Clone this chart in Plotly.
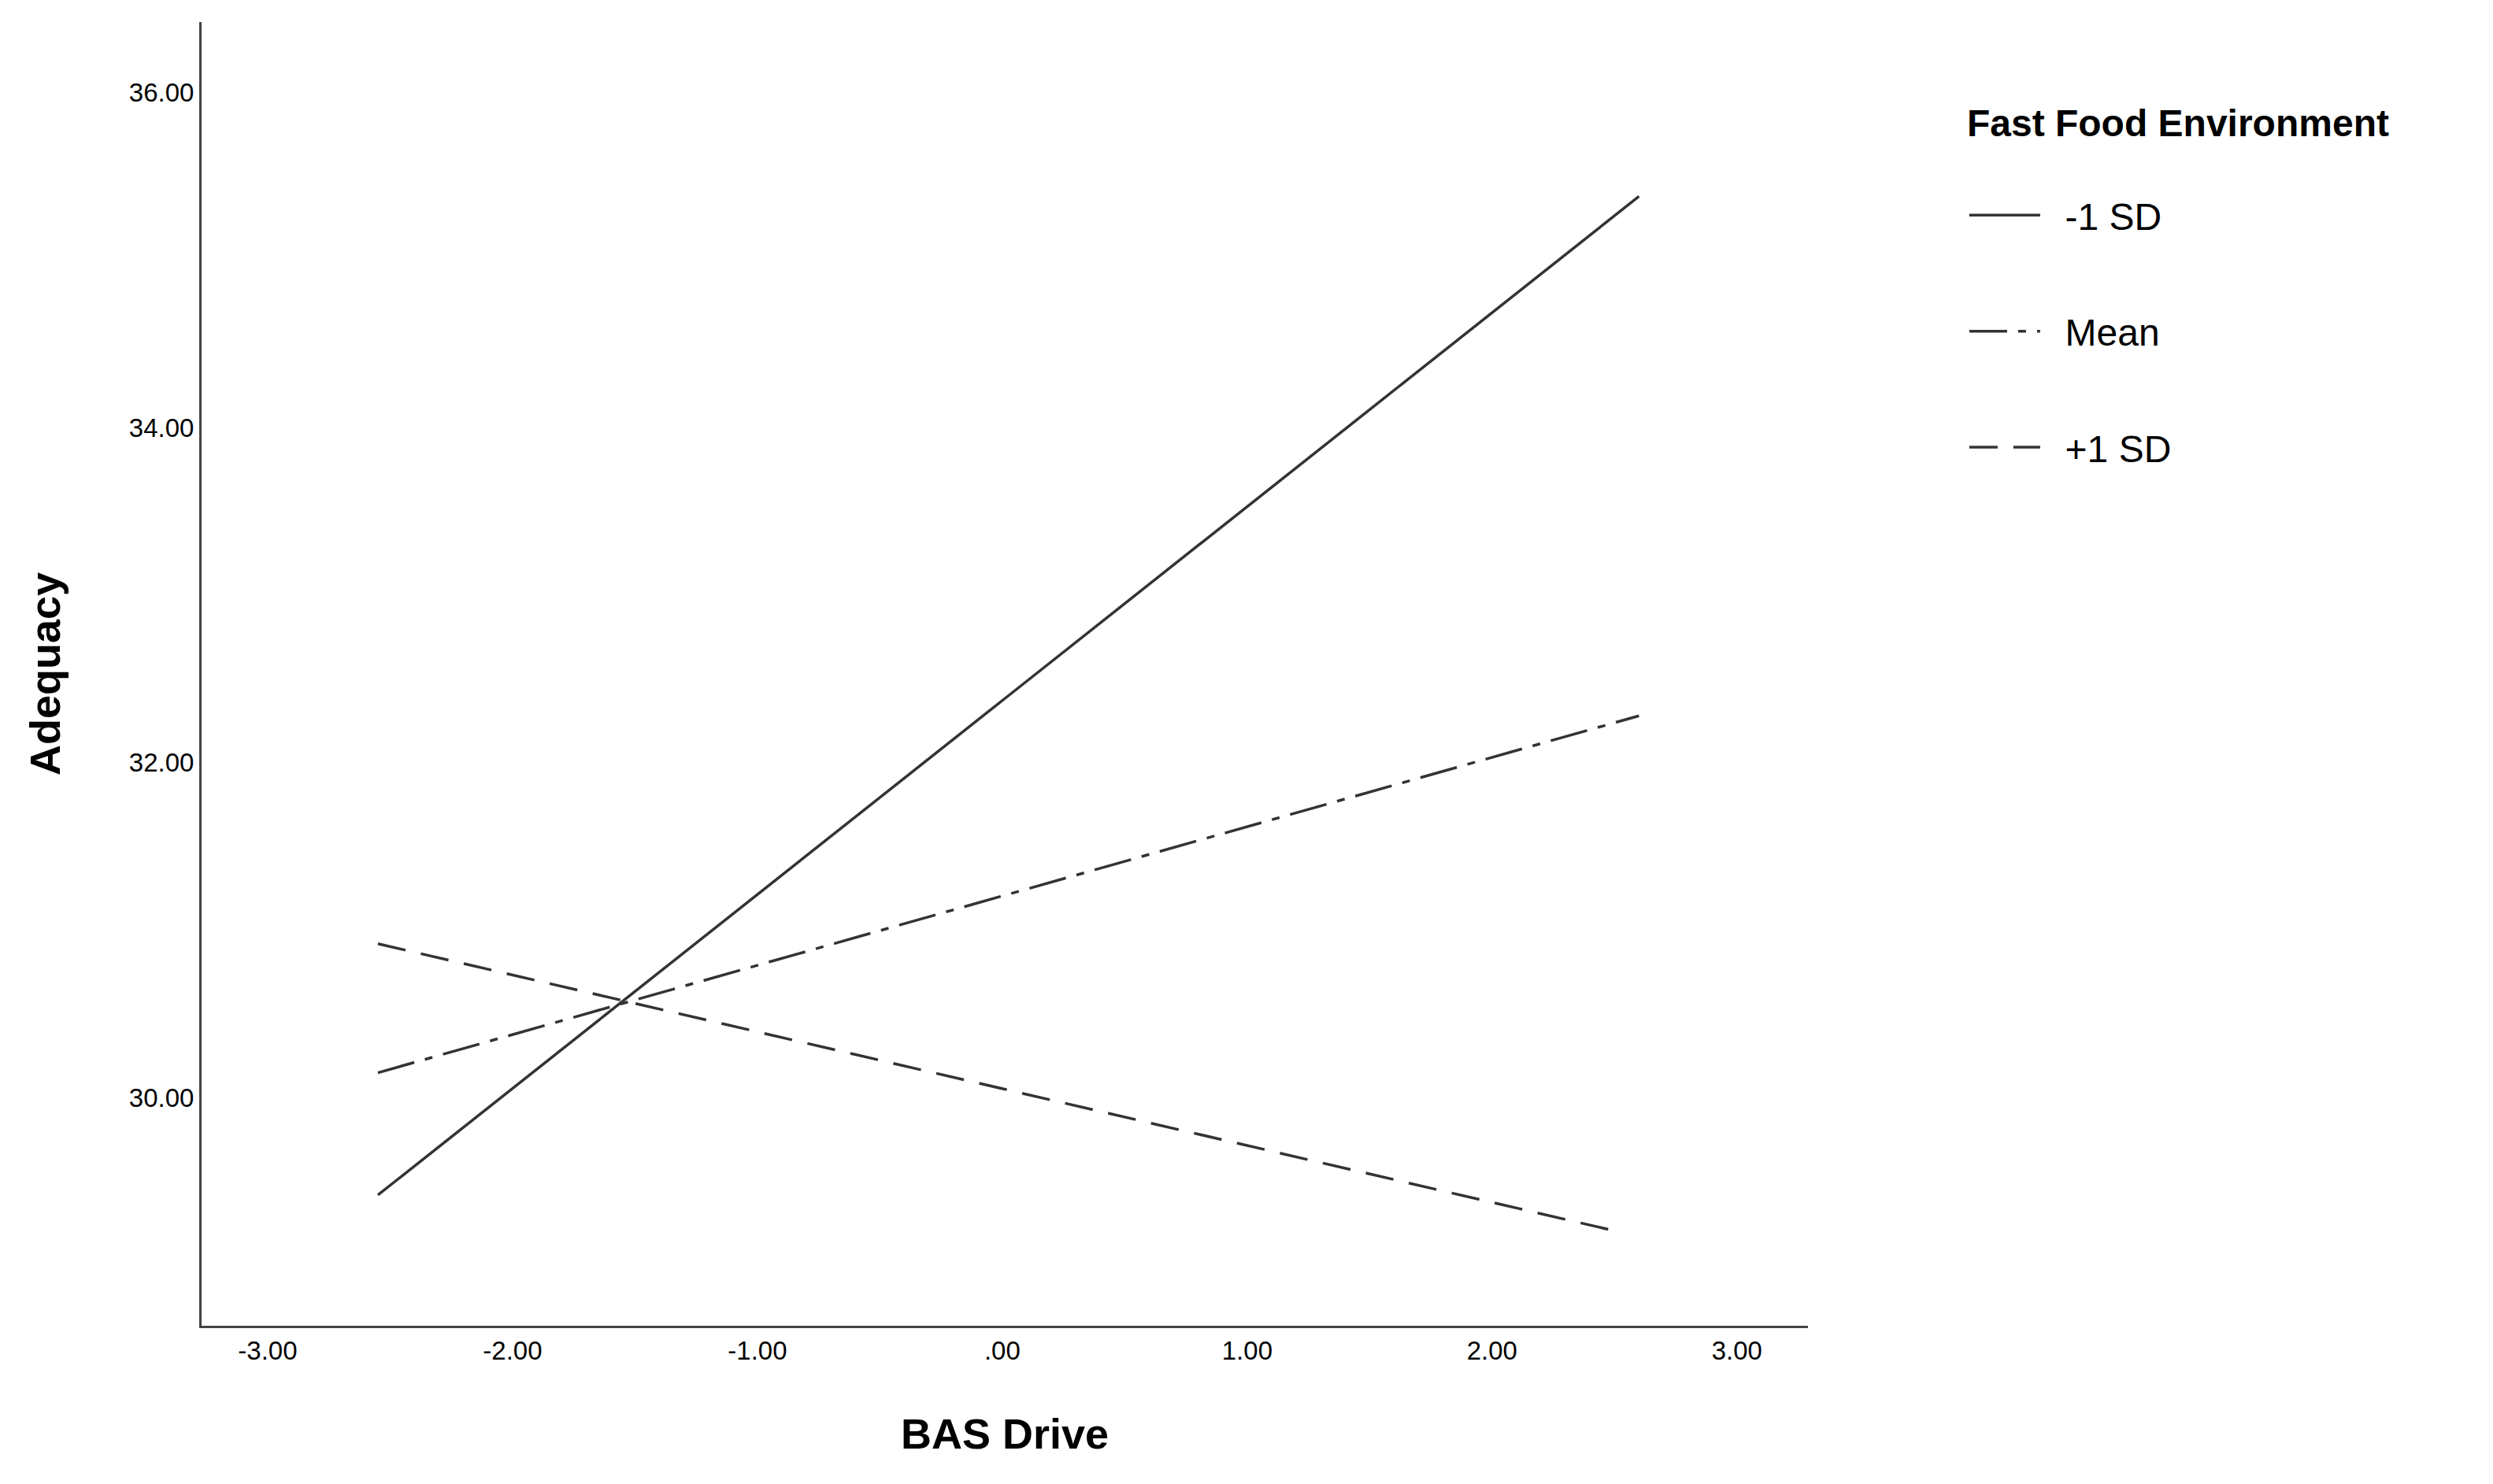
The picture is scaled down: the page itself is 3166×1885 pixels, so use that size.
import plotly.graph_objects as go

x_start = [-2.55, -2.55, -2.55]
x_end = [2.60, 2.60, 2.52]
names = ["-1 SD", "Mean", "+1 SD"]
y_start = [29.42, 30.15, 30.92]
y_end = [35.38, 32.28, 29.20]
dashes = ["solid", "48px,14px,10px,14px", "36px,20px"]

xticks = [-3, -2, -1, 0, 1, 2, 3]
xticklabels = ["-3.00", "-2.00", "-1.00", ".00", "1.00", "2.00", "3.00"]
yticks = [30, 32, 34, 36]
yticklabels = ["30.00", "32.00", "34.00", "36.00"]

fig = go.Figure()
for i, n in enumerate(names):
    fig.add_trace(go.Scatter(x=[x_start[i], x_end[i]], y=[y_start[i], y_end[i]],
                             mode="lines", name="  " + n, legendgroup=n,
                             line=dict(color="#333333", width=3.5, dash=dashes[i])))

fig.update_layout(
    width=3166, height=1885, paper_bgcolor="white", plot_bgcolor="white",
    margin=dict(l=248, r=878, t=20, b=209),
    font=dict(family="Liberation Sans, Arial", color="black"),
    legend=dict(x=1.098, y=0.95, xanchor="left", yanchor="top",
                title=dict(text="<b>Fast Food Environment</b><br> ", font=dict(size=48)),
                font=dict(size=48), tracegroupgap=82, itemwidth=90),
    xaxis=dict(range=[-3.27, 3.29], tickvals=xticks, ticktext=xticklabels,
               showgrid=False, zeroline=False, showline=True, linecolor="#444", linewidth=3,
               tickfont=dict(size=33),
               title=dict(text="<b>BAS Drive</b>", font=dict(size=54), standoff=70)),
    yaxis=dict(range=[28.64, 36.42], tickvals=yticks, ticktext=yticklabels,
               showgrid=False, zeroline=False, showline=True, linecolor="#444", linewidth=3,
               tickfont=dict(size=33),
               title=dict(text="<b>Adequacy</b>", font=dict(size=54), standoff=70)),
)
fig.write_html("out.html")
